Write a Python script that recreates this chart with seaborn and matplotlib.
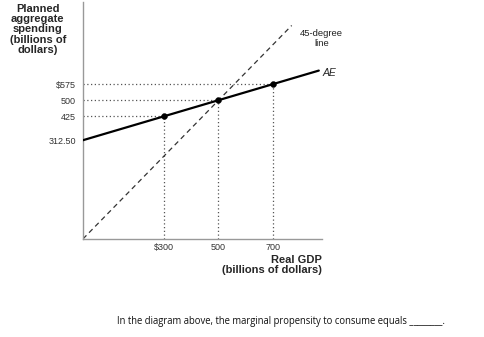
import numpy as np
import pandas as pd
import matplotlib
matplotlib.use('Agg')
import matplotlib.pyplot as plt
import seaborn as sns

# data
gdp_ae = [0, 870]
spend_ae = [312.5, 638.75]
gdp_45 = [0, 770]
spend_45 = [-150, 850]
gdp_pts = [300, 500, 700]
spend_pts = [425, 500, 575]
x_ticks = [300, 500, 700]
x_labels = ['$300', '500', '700']
y_ticks = [312.5, 425, 500, 575]
y_labels = ['312.50', '425', '500', '$575']

sns.set_style('white')
plt.rcParams['font.family'] = ['Liberation Sans', 'DejaVu Sans']

fig = plt.figure(figsize=(4.85, 3.37), dpi=100)
ax = fig.add_axes([0.171, 0.291, 0.493, 0.703])

df_ae = pd.DataFrame({'gdp': gdp_ae, 'spend': spend_ae})
df_45 = pd.DataFrame({'gdp': gdp_45, 'spend': spend_45})
df_pts = pd.DataFrame({'gdp': gdp_pts, 'spend': spend_pts})

# dotted guide lines
for gx, sy in zip(gdp_pts, spend_pts):
    ax.plot([0, gx], [sy, sy], color='#555555', lw=0.9, ls=(0, (1, 2)), zorder=1)
    ax.plot([gx, gx], [-150, sy], color='#555555', lw=0.9, ls=(0, (1, 2)), zorder=1)

sns.lineplot(data=df_45, x='gdp', y='spend', ax=ax, color='#333333', lw=0.9,
             linestyle=(0, (4, 3)), zorder=2)
sns.lineplot(data=df_ae, x='gdp', y='spend', ax=ax, color='black', lw=1.6, zorder=3)
sns.scatterplot(data=df_pts, x='gdp', y='spend', ax=ax, color='black', s=18,
                edgecolor='black', zorder=4)

ax.set_xlim(0, 882)
ax.set_ylim(-150, 960)
ax.set_xticks(x_ticks)
ax.set_xticklabels(x_labels)
ax.set_yticks(y_ticks)
ax.set_yticklabels(y_labels)
ax.tick_params(axis='both', labelsize=6.5, colors='#333333', length=3, width=0.8, pad=2)
ax.tick_params(axis='x', direction='in', pad=3)
ax.set_xlabel('')
ax.set_ylabel('')

for side in ['top', 'right']:
    ax.spines[side].set_visible(False)
for side in ['left', 'bottom']:
    ax.spines[side].set_color('#999999')
    ax.spines[side].set_linewidth(1.0)

ax.text(880, 790, '45-degree\nline', fontsize=6.8, ha='center', va='center',
        color='#222222', linespacing=1.15, clip_on=False)
ax.text(884, 628, 'AE', fontsize=7.5, style='italic', ha='left', va='center',
        clip_on=False)

fig.text(0.078, 0.988, 'Planned\naggregate\nspending\n(billions of\ndollars)',
         fontsize=8, fontweight='bold', ha='center', va='top', linespacing=1.02)
fig.text(0.664, 0.243, 'Real GDP\n(billions of dollars)', fontsize=8,
         fontweight='bold', ha='right', va='top', linespacing=0.95)
fig.text(0.241, 0.045, 'In the diagram above, the marginal propensity to consume equals ________.',
         fontsize=6.85, family=['Open Sans', 'DejaVu Sans'], color='#111111',
         ha='left', va='center')

fig.savefig('out.png', dpi=100)
